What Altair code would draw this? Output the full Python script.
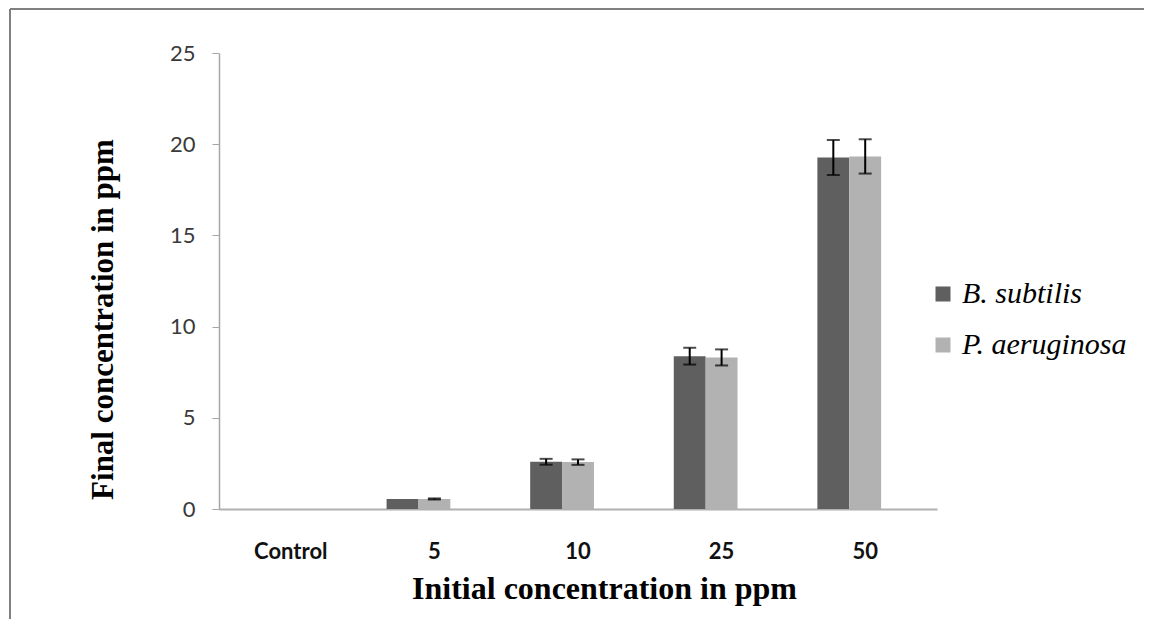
import altair as alt
import pandas as pd

categories = ["Control", "5", "10", "25", "50"]
series = ["B. subtilis", "P. aeruginosa"]
b_subtilis = [0.0, 0.55, 2.59, 8.38, 19.27]
b_subtilis_err = [0.0, 0.0, 0.16, 0.46, 0.96]
p_aeruginosa = [0.0, 0.55, 2.57, 8.31, 19.33]
p_aeruginosa_err = [0.0, 0.03, 0.15, 0.44, 0.94]
colors = ["#5f5f5f", "#b2b2b2"]

rows = []
for i, c in enumerate(categories):
    rows.append({"cat": c, "series": series[0], "val": b_subtilis[i], "err": b_subtilis_err[i]})
    rows.append({"cat": c, "series": series[1], "val": p_aeruginosa[i], "err": p_aeruginosa_err[i]})
df = pd.DataFrame(rows)
df["lo"] = df["val"] - df["err"]
df["hi"] = df["val"] + df["err"]
err_df = df[df["err"] > 0]

W, H = 718, 456
PAD_L, PAD_T = 211, 45
PAD_R = 1136 - PAD_L - W
PAD_B = 611 - PAD_T - H

x_enc = alt.X(
    "cat:N",
    sort=categories,
    scale=alt.Scale(paddingInner=0.334, paddingOuter=0.167),
    axis=alt.Axis(
        title="Initial concentration in ppm",
        labelAngle=0,
        labelFont="Lato",
        labelFontWeight="bold",
        labelFontSize=22,
        labelColor="#111111",
        labelBaseline="middle",
        labelPadding=42,
        ticks=False,
        domainColor="#b0b0b0",
        domainWidth=2,
        titleFont="Liberation Serif",
        titleFontWeight="bold",
        titleFontSize=32,
        titleColor="#000000",
        titleX=385,
        titleY=79,
        titleAlign="center",
        titleBaseline="middle",
    ),
)
xo_enc = alt.XOffset(
    "series:N",
    scale=alt.Scale(domain=series + ["_"], paddingInner=0, paddingOuter=0),
)
y_scale = alt.Scale(domain=[0, 25])

bars = alt.Chart(df).mark_bar().encode(
    x=x_enc,
    xOffset=xo_enc,
    y=alt.Y(
        "val:Q",
        scale=y_scale,
        axis=alt.Axis(
            title="Final concentration in ppm",
            values=[0, 5, 10, 15, 20, 25],
            grid=False,
            labelFont="Lato",
            labelFontSize=22,
            labelColor="#3a3a3a",
            labelPadding=17,
            tickSize=7,
            tickColor="#a6a6a6",
            domainColor="#a6a6a6",
            domainWidth=1.5,
            titleFont="Liberation Serif",
            titleFontWeight="bold",
            titleFontSize=31,
            titleColor="#000000",
            titleAngle=270,
            titleX=-116,
            titleY=266,
            titleAlign="center",
            titleBaseline="middle",
        ),
    ),
    color=alt.Color(
        "series:N",
        scale=alt.Scale(domain=series, range=colors),
        legend=alt.Legend(
            title=None,
            orient="none",
            legendX=709,
            legendY=226,
            symbolType="square",
            symbolSize=225,
            symbolStrokeWidth=0,
            symbolOpacity=1,
            labelFont="Liberation Serif",
            labelFontStyle="italic",
            labelFontSize=30,
            labelColor="#000000",
            labelOffset=4,
            labelLimit=400,
            rowPadding=21,
        ),
    ),
)

rules = alt.Chart(err_df).mark_rule(color="#000000", strokeWidth=2).encode(
    x=alt.X("cat:N", sort=categories),
    xOffset=alt.XOffset("series:N"),
    y=alt.Y("lo:Q", scale=y_scale),
    y2="hi:Q",
)
caps_lo = alt.Chart(err_df).mark_tick(color="#000000", thickness=2, size=13).encode(
    x=alt.X("cat:N", sort=categories),
    xOffset=alt.XOffset("series:N"),
    y=alt.Y("lo:Q", scale=y_scale),
)
caps_hi = alt.Chart(err_df).mark_tick(color="#000000", thickness=2, size=13).encode(
    x=alt.X("cat:N", sort=categories),
    xOffset=alt.XOffset("series:N"),
    y=alt.Y("hi:Q", scale=y_scale),
)

one = pd.DataFrame({"k": [0]})
border_top = alt.Chart(one).mark_rule(color="#808080", strokeWidth=2).encode(
    x=alt.value(-PAD_L + 2),
    x2=alt.value(W + PAD_R),
    y=alt.value(-PAD_T + 1),
)
border_left = alt.Chart(one).mark_rule(color="#808080", strokeWidth=2).encode(
    x=alt.value(-PAD_L + 2),
    y=alt.value(-PAD_T + 1),
    y2=alt.value(H + PAD_B),
)

chart = (
    alt.layer(bars, rules, caps_lo, caps_hi, border_top, border_left)
    .properties(
        width=W,
        height=H,
        padding={"left": PAD_L, "top": PAD_T, "right": PAD_R, "bottom": PAD_B},
        autosize=alt.AutoSizeParams(type="none"),
    )
    .configure_view(stroke=None)
)

chart.save("out.html", embed_options={"renderer": "svg", "actions": False})
